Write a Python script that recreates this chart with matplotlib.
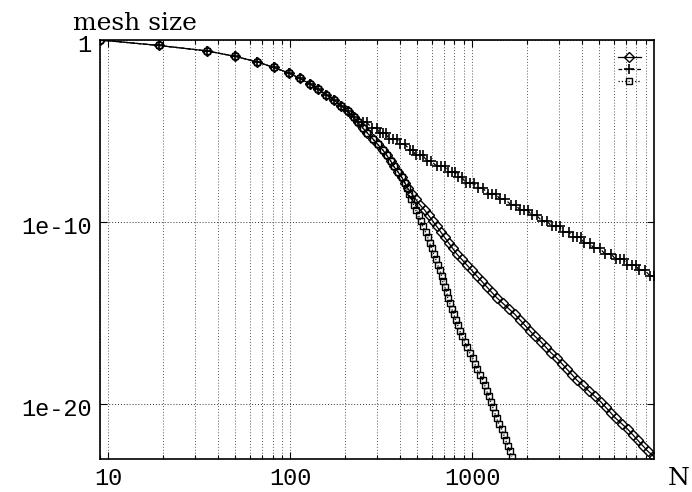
import numpy as np
import matplotlib
matplotlib.use("Agg")
import matplotlib.pyplot as plt
import matplotlib.transforms as mtransforms
from matplotlib.lines import Line2D
from matplotlib.ticker import FixedLocator, FixedFormatter, LogLocator, NullLocator, NullFormatter

# N reached at each refinement level i; the mesh size at level i is 2**-i
common_n = [9, 19, 35, 50, 66, 81, 98, 113, 128, 143, 158, 175, 191, 207, 223]

diamond_n = common_n + [
    235, 250, 266, 284, 302, 322, 339, 356, 370, 390, 410, 426, 442, 465,
    489, 515, 548, 577, 607, 639, 672, 707, 743, 782, 823, 877, 934, 995,
    1060, 1130, 1203, 1282, 1366, 1474, 1590, 1716, 1828, 1948, 2075, 2211,
    2386, 2542, 2708, 2922, 3113, 3316, 3533, 3763, 4061, 4383, 4729, 5103,
    5436, 5793, 6171, 6659, 7186, 7654, 8154, 8687, 9255, 10000]

square_n = common_n + [
    235, 250, 266, 284, 302, 322, 339, 356, 370, 390, 410, 426,
    437, 448, 459, 477, 489, 508, 521, 535, 555, 570, 584, 599, 615, 631,
    647, 663, 680, 689, 707, 725, 734,
    753, 772, 792, 812, 833, 855, 877, 911, 934, 970, 1008, 1034, 1060,
    1101, 1144, 1173, 1203, 1234, 1266, 1299, 1332, 1366, 1401, 1455, 1493,
    1531, 1570, 1611, 1652]

# the third run keeps several N values on the same level
plus_groups = [[n] for n in common_n] + [
    [235, 250, 263], [280, 299], [310, 322, 335], [348, 366, 385],
    [400, 426], [454, 471], [489, 515, 535], [563, 592],
    [639, 672, 707], [734, 772, 802], [833, 877], [922, 970, 1020],
    [1074, 1144], [1219, 1282, 1349], [1419, 1511], [1631, 1738],
    [1828, 1923, 2023], [2128, 2267], [2416, 2574], [2743, 2885, 3035],
    [3152, 3401], [3578, 3764, 3960], [4113, 4438], [4669, 5039],
    [5369, 5793], [6171, 6491, 6829], [7094, 7556, 7949], [8257, 8913],
    [9494, 9989]]

y_ticks = [1e-20, 1e-10, 1]
y_tick_labels = ["1e-20", "1e-10", "1"]
x_ticks = [10, 100, 1000]
x_tick_labels = ["10", "100", "1000"]


def per_level(values):
    return np.array(values, dtype=float), 0.5 ** np.arange(len(values))


diamond_x, diamond_h = per_level(diamond_n)
square_x, square_h = per_level(square_n)
plus_x = np.array([n for grp in plus_groups for n in grp], dtype=float)
plus_h = np.array([0.5 ** i for i, grp in enumerate(plus_groups) for n in grp])

fig = plt.figure(figsize=(6.92, 4.92), dpi=100)
ax = fig.add_axes([100 / 692, 33 / 492, 554 / 692, 419 / 492])

diamond_style = dict(color="black", lw=0.9, ls="-", marker="D", ms=4.8,
                     mfc="none", mew=1.0)
plus_style = dict(color="black", lw=0.9, ls=(0, (3, 2)), marker="+", ms=7,
                  mew=1.2)
square_style = dict(color="black", lw=0.9, ls=":", marker="s", ms=5,
                    mfc="none", mew=1.0)

ax.plot(diamond_x, diamond_h, **diamond_style)
ax.plot(plus_x, plus_h, **plus_style)
ax.plot(square_x, square_h, **square_style)

ax.set_xscale("log")
ax.set_yscale("log")
ax.set_xlim(9, 10000)
ax.set_ylim(1e-23, 1)

ax.xaxis.set_major_locator(FixedLocator(x_ticks))
ax.xaxis.set_major_formatter(FixedFormatter(x_tick_labels))
ax.xaxis.set_minor_locator(LogLocator(base=10, subs=np.arange(2, 10), numticks=50))
ax.xaxis.set_minor_formatter(NullFormatter())
ax.yaxis.set_major_locator(FixedLocator(y_ticks))
ax.yaxis.set_major_formatter(FixedFormatter(y_tick_labels))
ax.yaxis.set_minor_locator(NullLocator())

ax.tick_params(which="both", direction="in", top=True, right=True, width=0.8)
ax.tick_params(which="major", length=5, pad=6)
ax.tick_params(which="minor", length=3)
for lab in ax.get_xticklabels() + ax.get_yticklabels():
    lab.set_fontfamily("Liberation Mono")
    lab.set_fontsize(17)

# y labels sit a little below their ticks
shift = mtransforms.ScaledTranslation(0, -3 / 100, fig.dpi_scale_trans)
for tick in ax.yaxis.get_major_ticks():
    tick.label1.set_transform(tick.label1.get_transform() + shift)

ax.grid(True, which="both", axis="x", color="0.35", ls=(0, (1, 2)), lw=0.7)
ax.grid(True, which="major", axis="y", color="0.2", ls=(0, (1, 2)), lw=0.7)
for sp in ax.spines.values():
    sp.set_linewidth(1.2)

fig.text(73 / 692, 1 - 30 / 492, "mesh size", family="DejaVu Serif",
         fontsize=18, ha="left", va="baseline")
fig.text(668 / 692, 1 - 485 / 492, "N", family="DejaVu Serif",
         fontsize=18, ha="left", va="baseline")

handles = [Line2D([], [], **diamond_style), Line2D([], [], **plus_style),
           Line2D([], [], **square_style)]
ax.legend(handles, ["", "", ""], loc="upper right",
          bbox_to_anchor=(641 / 692, 1 - 53 / 492),
          bbox_transform=fig.transFigure, frameon=False, fontsize=8,
          numpoints=1, handlelength=2.1, handletextpad=0, borderpad=0,
          borderaxespad=0, labelspacing=0.18)

fig.savefig("out.png", dpi=100)
